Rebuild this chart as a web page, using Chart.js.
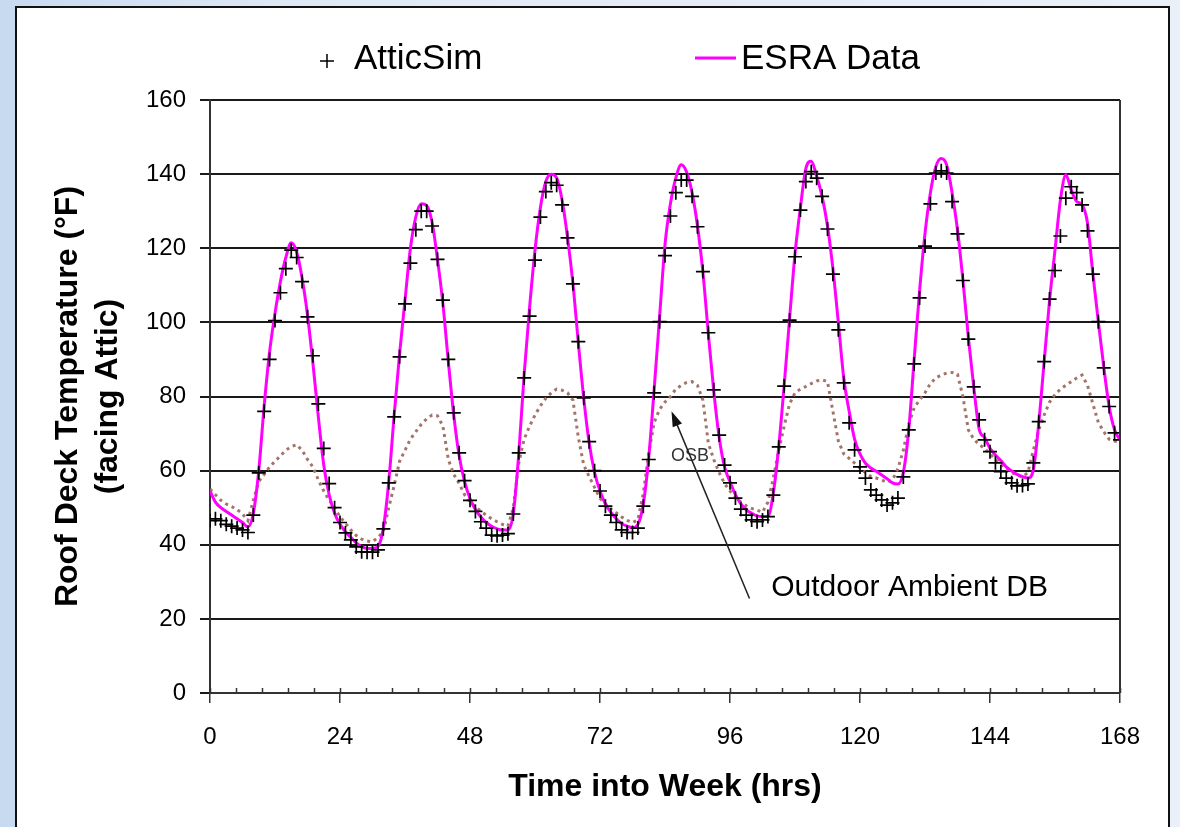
<!DOCTYPE html>
<html>
<head>
<meta charset="utf-8">
<title>Roof Deck Temperature</title>
<script src="https://cdn.jsdelivr.net/npm/chart.js@4.4.1/dist/chart.umd.min.js"></script>
<style>
  html, body {
    margin: 0;
    padding: 0;
    width: 1180px;
    height: 827px;
    overflow: hidden;
    background: linear-gradient(90deg, #c6daf0 0%, #dfe9f6 25%, #eaf0f8 100%);
  }
  #panel {
    position: absolute;
    left: 15px;
    top: 6px;
    width: 1151px;
    height: 850px;
    background: #fff;
    border: 2px solid #111;
  }
  #chart {
    position: absolute;
    left: 0;
    top: 0;
  }
</style>
</head>
<body>
<div id="panel"></div>
<canvas id="chart" width="1180" height="827"></canvas>
<script>
// hour 0..168 of the test week
var hours = [];
for (var h = 0; h <= 168; h++) hours.push(h);

// simulated roof deck temperature (F), hourly
var atticSim = [
    46.5, 47, 46.5, 45.5, 45, 44.5, 44, 43.3, 48, 59.4, 76, 90, 100.5, 108, 114.5, 119.5, 117.5, 111, 101.5, 91, 78, 66, 56.5, 50,
    46, 43.2, 41.3, 39.4, 38.1, 38, 38, 38.6, 44.3, 56.7, 74.5, 90.7, 105, 116, 125, 130, 130, 126, 117, 106, 90, 75.6, 64.8, 57.3,
    52, 49, 46.2, 44.5, 42.6, 42.4, 42.6, 43, 48.3, 64.8, 85, 101.7, 116.8, 128.4, 135.3, 137.7, 137, 131.7, 122.8, 110.4, 94.8, 79.6, 67.8, 60,
    54.5, 50.4, 48, 46, 44, 43.3, 43.3, 44.5, 50.4, 63, 81, 100.2, 118, 128.7, 135, 138.4, 138.4, 134, 125.8, 113.7, 97.2, 81.8, 69.6, 61.5,
    56.7, 52.6, 49.6, 48, 46.7, 46.2, 46.7, 47.6, 53.4, 66.4, 82.8, 100.6, 117.7, 130.3, 138, 140.7, 138.9, 134, 125.2, 113, 98, 83.7, 72.9, 65.6,
    61, 58, 54.8, 53.4, 52.1, 50.7, 51.3, 52.6, 58.3, 71, 88.8, 106.6, 120.6, 132, 140.3, 140.9, 140.3, 132.6, 123.9, 111.3, 95.5, 82.6, 73.7, 68.3,
    65.1, 62.1, 59.7, 58, 56.7, 55.9, 56, 56.4, 62.1, 73.2, 89.4, 106.3, 114, 123.3, 133.5, 136.6, 135, 131.7, 124.7, 113, 100.2, 87.7, 77.3, 70.2, 68.3
];

// measured roof deck temperature (F)
var esraData = [
    54.5, 51.5, 50, 49, 48, 47, 46, 44.8, 48.5, 60, 77.5, 92, 102.5, 111, 117.5, 121.5, 119, 112, 102, 89, 74.5, 61.5, 53.5, 48.5,
    45.5, 43.5, 42, 40.5, 39.5, 39, 39, 39.5, 44.5, 57, 75, 91.5, 106, 120, 128.5, 132, 131.5, 127, 117, 105, 89.5, 75, 64, 57,
    52.5, 49.5, 47.5, 46, 45, 44.3, 44, 44, 48.5, 64.5, 86, 104, 119.5, 131, 138, 140, 139, 133, 123, 110.5, 94.5, 79.5, 67.5, 59.5,
    54.5, 51, 48.8, 47, 45.7, 45, 44.6, 45.5, 51, 63.5, 82, 101.5, 121, 132, 139, 142.5, 140.5, 135, 126, 113.5, 97, 81.5, 69, 61,
    57, 53.5, 51, 49.4, 48.5, 47.8, 47.6, 47.6, 54, 66.5, 83, 101, 118.5, 131, 141.5, 143.5, 139.5, 134, 126, 114.5, 100, 85, 76, 68.5,
    64.5, 62, 60.7, 59.8, 58.8, 57.8, 56.7, 56.4, 59.5, 71, 90, 108.5, 124, 135, 142, 144.2, 142.5, 135, 125, 111.4, 96, 82.6, 71.2, 68.9,
    66, 64.2, 62.7, 61, 59.9, 59, 58.4, 58, 60.2, 72.8, 89.4, 106, 119.5, 133, 139.8, 135.7, 132.6, 131.7, 126.8, 113, 100.2, 88, 77.3, 71, 68.3
];

// outdoor ambient dry bulb (F)
var ambientDB = [
    55, 53.5, 52, 51, 50.3, 49.5, 48.3, 46.5, 52, 57, 59, 61, 62.5, 64, 65.5, 66.5, 67, 65.5, 63, 61, 57.5, 54.5, 52, 50,
    47.5, 45.8, 44, 42.5, 41.5, 41, 40.8, 42, 43.5, 50, 56, 62.5, 65.5, 68.5, 70.5, 72.5, 74, 75, 74.8, 72, 63, 59, 56.5, 53.5,
    51.5, 50.3, 49, 48, 47, 46.2, 45.5, 45, 50, 62, 68.5, 72, 75, 77.5, 79.5, 81, 82, 81.7, 81, 79, 69, 61.5, 58.4, 55.5,
    52.5, 51, 49.7, 48.6, 47.5, 46.6, 46, 46.7, 53.9, 64.7, 73, 76.5, 78.5, 80, 82, 83, 83.8, 84, 83, 79, 67.4, 63, 59.5, 56.5,
    54.5, 53, 51.5, 50.5, 49.8, 49.3, 48.8, 51.5, 58, 65.5, 72, 78, 81, 82, 82.7, 83.5, 84.2, 84.5, 84, 76, 68, 64.5, 63.3, 62,
    60.7, 59.5, 58.4, 58, 57.5, 56.8, 57.5, 60.5, 65.5, 72.5, 77, 79, 81, 83.5, 85, 85.8, 86.3, 86.5, 86, 80, 71, 68.5, 67, 66,
    64.5, 63, 61.8, 60.5, 59.5, 58.8, 58.3, 59.5, 65.5, 71, 75, 78.5, 80.5, 82, 83, 84, 85, 85.8, 83, 78, 73, 70.5, 68.5, 68, 67.7
];

var xTicks = [0, 24, 48, 72, 96, 120, 144, 168];
var yTicks = [0, 20, 40, 60, 80, 100, 120, 140, 160];

var FONT = "'Liberation Sans', Arial, sans-serif";
var MAGENTA = '#ff00ff';
var BROWN = '#a3746a';

// callout pointing at the ambient curve, in data units
var callout = { fromX: 99.6, fromY: 25.5, toX: 85.2, toY: 76, textX: 103.6, textY: 28.3 };
var osbLabel = { x: 88.6, y: 64 };

var extras = {
    id: 'extras',
    afterDatasetsDraw: function(chart) {
        var c = chart.ctx, a = chart.chartArea;
        var xs = chart.scales.x, ys = chart.scales.y;
        c.save();

        // right frame edge
        c.strokeStyle = '#333';
        c.lineWidth = 2;
        c.beginPath();
        c.moveTo(a.right, a.top);
        c.lineTo(a.right, a.bottom);
        c.stroke();

        // minor ticks on the time axis, pointing up into the plot
        c.lineWidth = 1.5;
        var step = 24 / 5;
        for (var k = 0; k <= 35; k++) {
            var px = Math.round(xs.getPixelForValue(k * step)) + 0.5;
            c.beginPath();
            c.moveTo(px, a.bottom);
            c.lineTo(px, a.bottom - 5);
            c.stroke();
        }

        // OSB tag
        c.fillStyle = '#333';
        c.font = '18px ' + FONT;
        c.textAlign = 'center';
        c.textBaseline = 'middle';
        c.fillText('OSB', xs.getPixelForValue(osbLabel.x), ys.getPixelForValue(osbLabel.y));

        // arrow to the ambient curve
        var x0 = xs.getPixelForValue(callout.fromX), y0 = ys.getPixelForValue(callout.fromY);
        var x1 = xs.getPixelForValue(callout.toX), y1 = ys.getPixelForValue(callout.toY);
        var ang = Math.atan2(y1 - y0, x1 - x0);
        var head = 16, spread = 0.32;
        c.strokeStyle = '#222';
        c.fillStyle = '#111';
        c.lineWidth = 1.5;
        c.beginPath();
        c.moveTo(x0, y0);
        c.lineTo(x1 - Math.cos(ang) * head * 0.8, y1 - Math.sin(ang) * head * 0.8);
        c.stroke();
        c.beginPath();
        c.moveTo(x1, y1);
        c.lineTo(x1 - head * Math.cos(ang - spread), y1 - head * Math.sin(ang - spread));
        c.lineTo(x1 - head * Math.cos(ang + spread), y1 - head * Math.sin(ang + spread));
        c.closePath();
        c.fill();

        c.fillStyle = '#000';
        c.font = '30px ' + FONT;
        c.textAlign = 'left';
        c.fillText('Outdoor Ambient DB', xs.getPixelForValue(callout.textX), ys.getPixelForValue(callout.textY));

        c.restore();
    },
    afterDraw: function(chart) {
        // legend row above the plot
        var c = chart.ctx;
        var sets = chart.data.datasets;
        c.save();
        c.font = '35px ' + FONT;
        c.textBaseline = 'middle';
        c.textAlign = 'left';
        c.fillStyle = '#000';

        c.strokeStyle = '#000';
        c.lineWidth = 1.5;
        c.beginPath();
        c.moveTo(320, 61); c.lineTo(334, 61);
        c.moveTo(327, 54); c.lineTo(327, 68);
        c.stroke();
        c.fillText(sets[0].label, 354, 59);

        c.strokeStyle = sets[1].borderColor;
        c.lineWidth = 3;
        c.beginPath();
        c.moveTo(695, 58); c.lineTo(736, 58);
        c.stroke();
        c.fillText(sets[1].label, 741, 59);
        c.restore();
    }
};

var ctx = document.getElementById('chart').getContext('2d');
var chart = new Chart(ctx, {
    type: 'line',
    data: {
        labels: hours,
        datasets: [{
            label: 'AtticSim',
            data: atticSim,
            showLine: false,
            pointStyle: 'cross',
            pointRadius: 7,
            pointBorderColor: '#000',
            pointBorderWidth: 1.7,
            order: 0
        },
        {
            label: 'ESRA Data',
            data: esraData,
            borderColor: MAGENTA,
            borderWidth: 3,
            pointRadius: 0,
            cubicInterpolationMode: 'monotone',
            order: 1
        },
        {
            label: 'Outdoor Ambient DB',
            data: ambientDB,
            borderColor: BROWN,
            borderWidth: 3,
            borderDash: [3, 4],
            pointRadius: 0,
            order: 2
        }]
    },
    options: {
        responsive: false,
        animation: false,
        events: [],
        layout: {
            padding: { top: 100, right: 60, bottom: 0, left: 0 }
        },
        plugins: {
            legend: { display: false },
            tooltip: { enabled: false }
        },
        scales: {
            x: {
                type: 'linear',
                min: 0,
                max: 168,
                afterBuildTicks: function(scale) {
                    scale.ticks = xTicks.map(function(v) { return { value: v }; });
                },
                afterFit: function(scale) { scale.height = 134; },
                ticks: {
                    color: '#000',
                    font: { family: FONT, size: 24 },
                    padding: 20,
                    maxRotation: 0
                },
                grid: {
                    drawOnChartArea: false,
                    tickLength: 10,
                    color: '#333',
                    lineWidth: 1.5
                },
                border: { color: '#333', width: 2 },
                title: {
                    display: true,
                    text: 'Time into Week (hrs)',
                    color: '#000',
                    font: { family: FONT, size: 32, weight: 'bold', lineHeight: 1.2 },
                    padding: { top: 0, bottom: 21 }
                }
            },
            y: {
                min: 0,
                max: 160,
                afterBuildTicks: function(scale) {
                    scale.ticks = yTicks.map(function(v) { return { value: v }; });
                },
                afterFit: function(scale) { scale.width = 210; },
                ticks: {
                    color: '#000',
                    font: { family: FONT, size: 24 },
                    padding: 14
                },
                grid: {
                    color: '#1a1a1a',
                    lineWidth: 2,
                    tickLength: 10
                },
                border: { color: '#333', width: 2 },
                title: {
                    display: true,
                    text: ['Roof Deck Temperature (\u00B0F)', '(facing Attic)'],
                    color: '#000',
                    font: { family: FONT, size: 32, weight: 'bold', lineHeight: 1.25 },
                    padding: { top: 48, bottom: 0 }
                }
            }
        }
    },
    plugins: [extras]
});
</script>
</body>
</html>
